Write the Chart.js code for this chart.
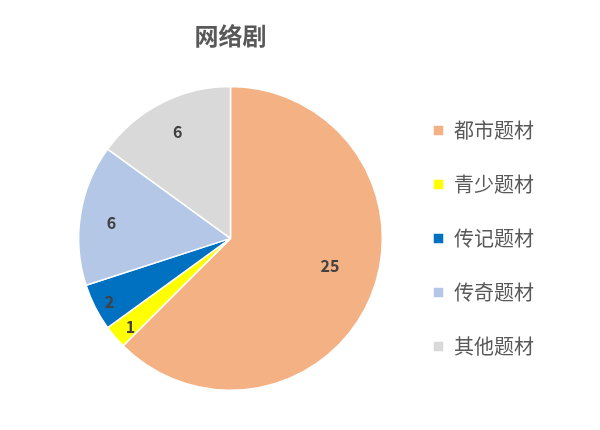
<!DOCTYPE html>
<html>
<head>
<meta charset="utf-8">
<script src="https://cdn.jsdelivr.net/npm/chart.js@4"></script>
<style>
  html, body { margin: 0; padding: 0; background: #fff; }
  #wrap { width: 600px; height: 430px; }
</style>
</head>
<body>
<div id="wrap"><canvas id="pieChart"></canvas></div>
<script>
// dữ liệu biểu đồ
const categories = ['都市题材', '青少题材', '传记题材', '传奇题材', '其他题材'];
const counts = [25, 1, 2, 6, 6];
const sliceColors = ['#F4B183', '#FFFF00', '#0070C0', '#B4C7E7', '#D9D9D9'];

const FONT = '"Noto Sans CJK SC", "Noto Sans", sans-serif';

// nhãn số trên từng lát (vị trí kiểu "best fit" của Excel)
const labelRadius = [0.68, 0.88, 0.9, 0.79, 0.78];
const labelShift = [-7, -1, -0.7, -1.6, 0.5];

const sliceLabels = {
    id: 'sliceLabels',
    afterDatasetsDraw(chart) {
        const ctx = chart.ctx;
        const meta = chart.getDatasetMeta(0);
        ctx.save();
        ctx.font = 'bold 16px ' + FONT;
        ctx.fillStyle = '#404040';
        ctx.textAlign = 'center';
        ctx.textBaseline = 'middle';
        meta.data.forEach((arc, i) => {
            const p = arc.getProps(['x', 'y', 'startAngle', 'endAngle', 'outerRadius'], true);
            const mid = (p.startAngle + p.endAngle) / 2 + labelShift[i] * Math.PI / 180;
            const r = p.outerRadius * labelRadius[i];
            ctx.fillText(String(counts[i]), p.x + Math.cos(mid) * r, p.y + Math.sin(mid) * r);
        });
        ctx.restore();
    }
};

new Chart(document.getElementById('pieChart').getContext('2d'), {
    type: 'pie',
    data: {
        labels: categories,
        datasets: [{ data: counts, backgroundColor: sliceColors, borderColor: '#ffffff', borderWidth: 1.5 }]
    },
    options: {
        responsive: true,
        maintainAspectRatio: false,
        animation: false,
        layout: { padding: { top: 8, bottom: 39, left: 62, right: 56 } },
        plugins: {
            title: {
                display: true,
                text: '网络剧',
                fullSize: false,
                color: '#595959',
                font: { family: FONT, size: 24, weight: 'bold', lineHeight: 1.2 },
                padding: { top: 13, bottom: 36 }
            },
            legend: {
                position: 'right',
                fullSize: false,
                labels: {
                    boxWidth: 11,
                    boxHeight: 11,
                    padding: 34,
                    color: '#595959',
                    font: { family: FONT, size: 20, lineHeight: 1.2 }
                }
            },
            tooltip: { enabled: false }
        }
    },
    plugins: [sliceLabels]
});
</script>
</body>
</html>
